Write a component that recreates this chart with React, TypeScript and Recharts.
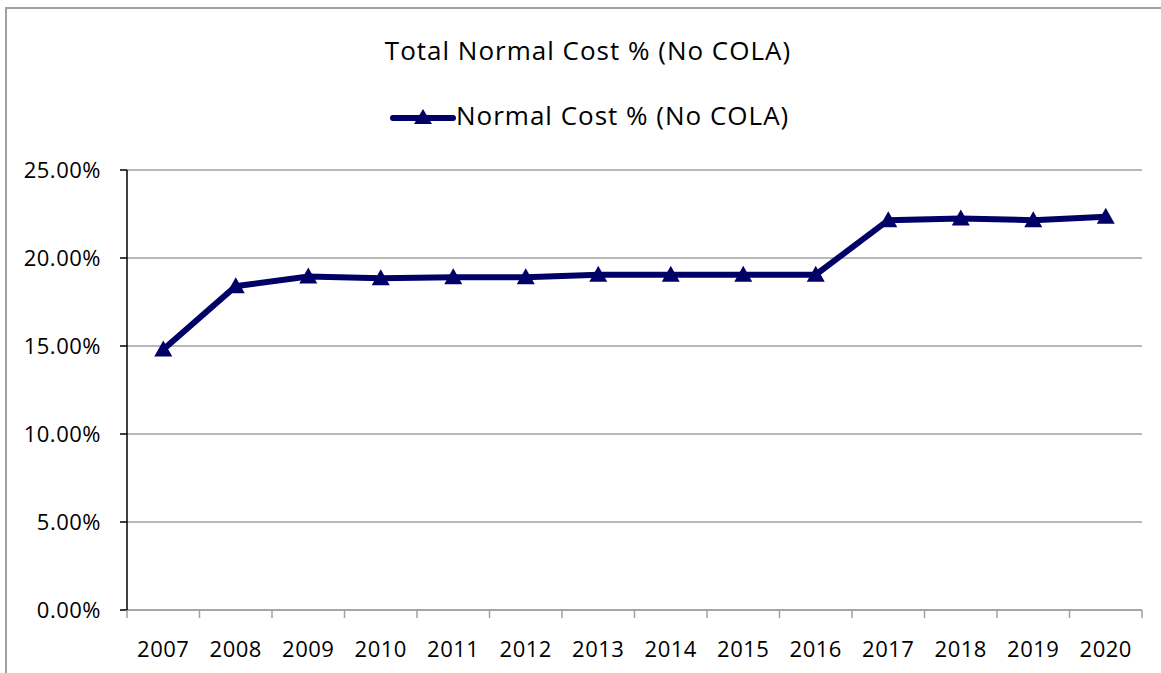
import { CartesianGrid, Line, LineChart, XAxis, YAxis } from "recharts";

const years = [
  "2007", "2008", "2009", "2010", "2011", "2012", "2013",
  "2014", "2015", "2016", "2017", "2018", "2019", "2020",
];
const normalCost = [
  14.8, 18.4, 18.95, 18.85, 18.9, 18.9, 19.05,
  19.05, 19.05, 19.05, 22.15, 22.25, 22.15, 22.35,
];
const yTicks = [0, 5, 10, 15, 20, 25];
// tick marks sit between years (Excel style), labels in the middle of each slot
const xTicks = years.flatMap((_, i) => [i, i + 0.5]).concat([years.length]);

const seriesName = "Normal Cost % (No COLA)";
const title = "Total Normal Cost % (No COLA)";

const NAVY = "#000066";
const GRID = "#a0a0a0";
const FONT = "'Open Sans', sans-serif";

const Triangle = (props: any) => {
  const { cx, cy, index } = props;
  if (cx == null || cy == null) return null;
  return (
    <path
      key={`tri-${index}`}
      d={`M${cx},${cy - 9} L${cx + 9},${cy + 7} L${cx - 9},${cy + 7} Z`}
      fill={NAVY}
    />
  );
};

const YearTick = (props: any) => {
  const { x, y, payload } = props;
  const v = payload.value as number;
  if (Number.isInteger(v)) {
    return <line x1={x} y1={y} x2={x} y2={y + 8} stroke={GRID} strokeWidth={1.5} />;
  }
  return (
    <text
      x={x}
      y={y + 38}
      textAnchor="middle"
      dominantBaseline="central"
      fill="#000"
      fontSize={22}
      fontFamily={FONT}
      letterSpacing={0.5}
    >
      {years[Math.floor(v)]}
    </text>
  );
};

export default function App() {
  const data = years.map((year, i) => ({ year, pos: i + 0.5, value: normalCost[i] }));

  return (
    <div
      style={{
        position: "fixed",
        left: 0,
        top: 0,
        width: 1161,
        height: 673,
        overflow: "hidden",
        background: "#fff",
        fontFamily: FONT,
      }}
    >
      <div style={{ position: "absolute", left: 0, top: 0 }}>
        <LineChart
          width={1161}
          height={673}
          data={data}
          margin={{ top: 170, right: 19, left: 0, bottom: 0 }}
        >
          <CartesianGrid vertical={false} stroke={GRID} strokeWidth={1.5} />
          <XAxis
            dataKey="pos"
            type="number"
            domain={[0, years.length]}
            ticks={xTicks}
            interval={0}
            height={63}
            axisLine={{ stroke: GRID, strokeWidth: 1.5 }}
            tickLine={false}
            tickSize={0}
            tickMargin={0}
            tick={<YearTick />}
          />
          <YAxis
            domain={[0, 25]}
            ticks={yTicks}
            width={127}
            tickFormatter={(v: number) => `${v.toFixed(2)}%`}
            axisLine={{ stroke: "#000", strokeWidth: 1.5 }}
            tickLine={{ stroke: "#000", strokeWidth: 1.5 }}
            tickSize={7}
            tickMargin={19}
            interval={0}
            tick={{ fill: "#000", fontSize: 22, fontFamily: FONT, letterSpacing: 0.5 }}
          />
          <Line
            type="linear"
            dataKey="value"
            name={seriesName}
            stroke={NAVY}
            strokeWidth={6}
            dot={Triangle}
            activeDot={false}
            isAnimationActive={false}
          />
        </LineChart>
      </div>
      <div
        style={{
          position: "absolute",
          left: 5,
          top: 7,
          width: 1170,
          height: 700,
          borderLeft: `2px solid ${GRID}`,
          borderTop: `2px solid ${GRID}`,
          pointerEvents: "none",
        }}
      />
      <div
        style={{
          position: "absolute",
          top: 32,
          left: 288,
          width: 600,
          textAlign: "center",
          fontSize: 26,
          letterSpacing: 1,
          lineHeight: "36px",
          color: "#000",
          whiteSpace: "nowrap",
        }}
      >
        {title}
      </div>
      <div
        style={{
          position: "absolute",
          top: 97,
          left: 390,
          display: "flex",
          alignItems: "center",
          fontSize: 26,
          letterSpacing: 1,
          lineHeight: "36px",
          whiteSpace: "nowrap",
        }}
      >
        <svg width={66} height={24}>
          <line x1={3} y1={15} x2={63} y2={15} stroke={NAVY} strokeWidth={6} strokeLinecap="round" />
          <path d="M33,6 L42,21 L24,21 Z" fill={NAVY} />
        </svg>
        <span>{seriesName}</span>
      </div>
    </div>
  );
}
